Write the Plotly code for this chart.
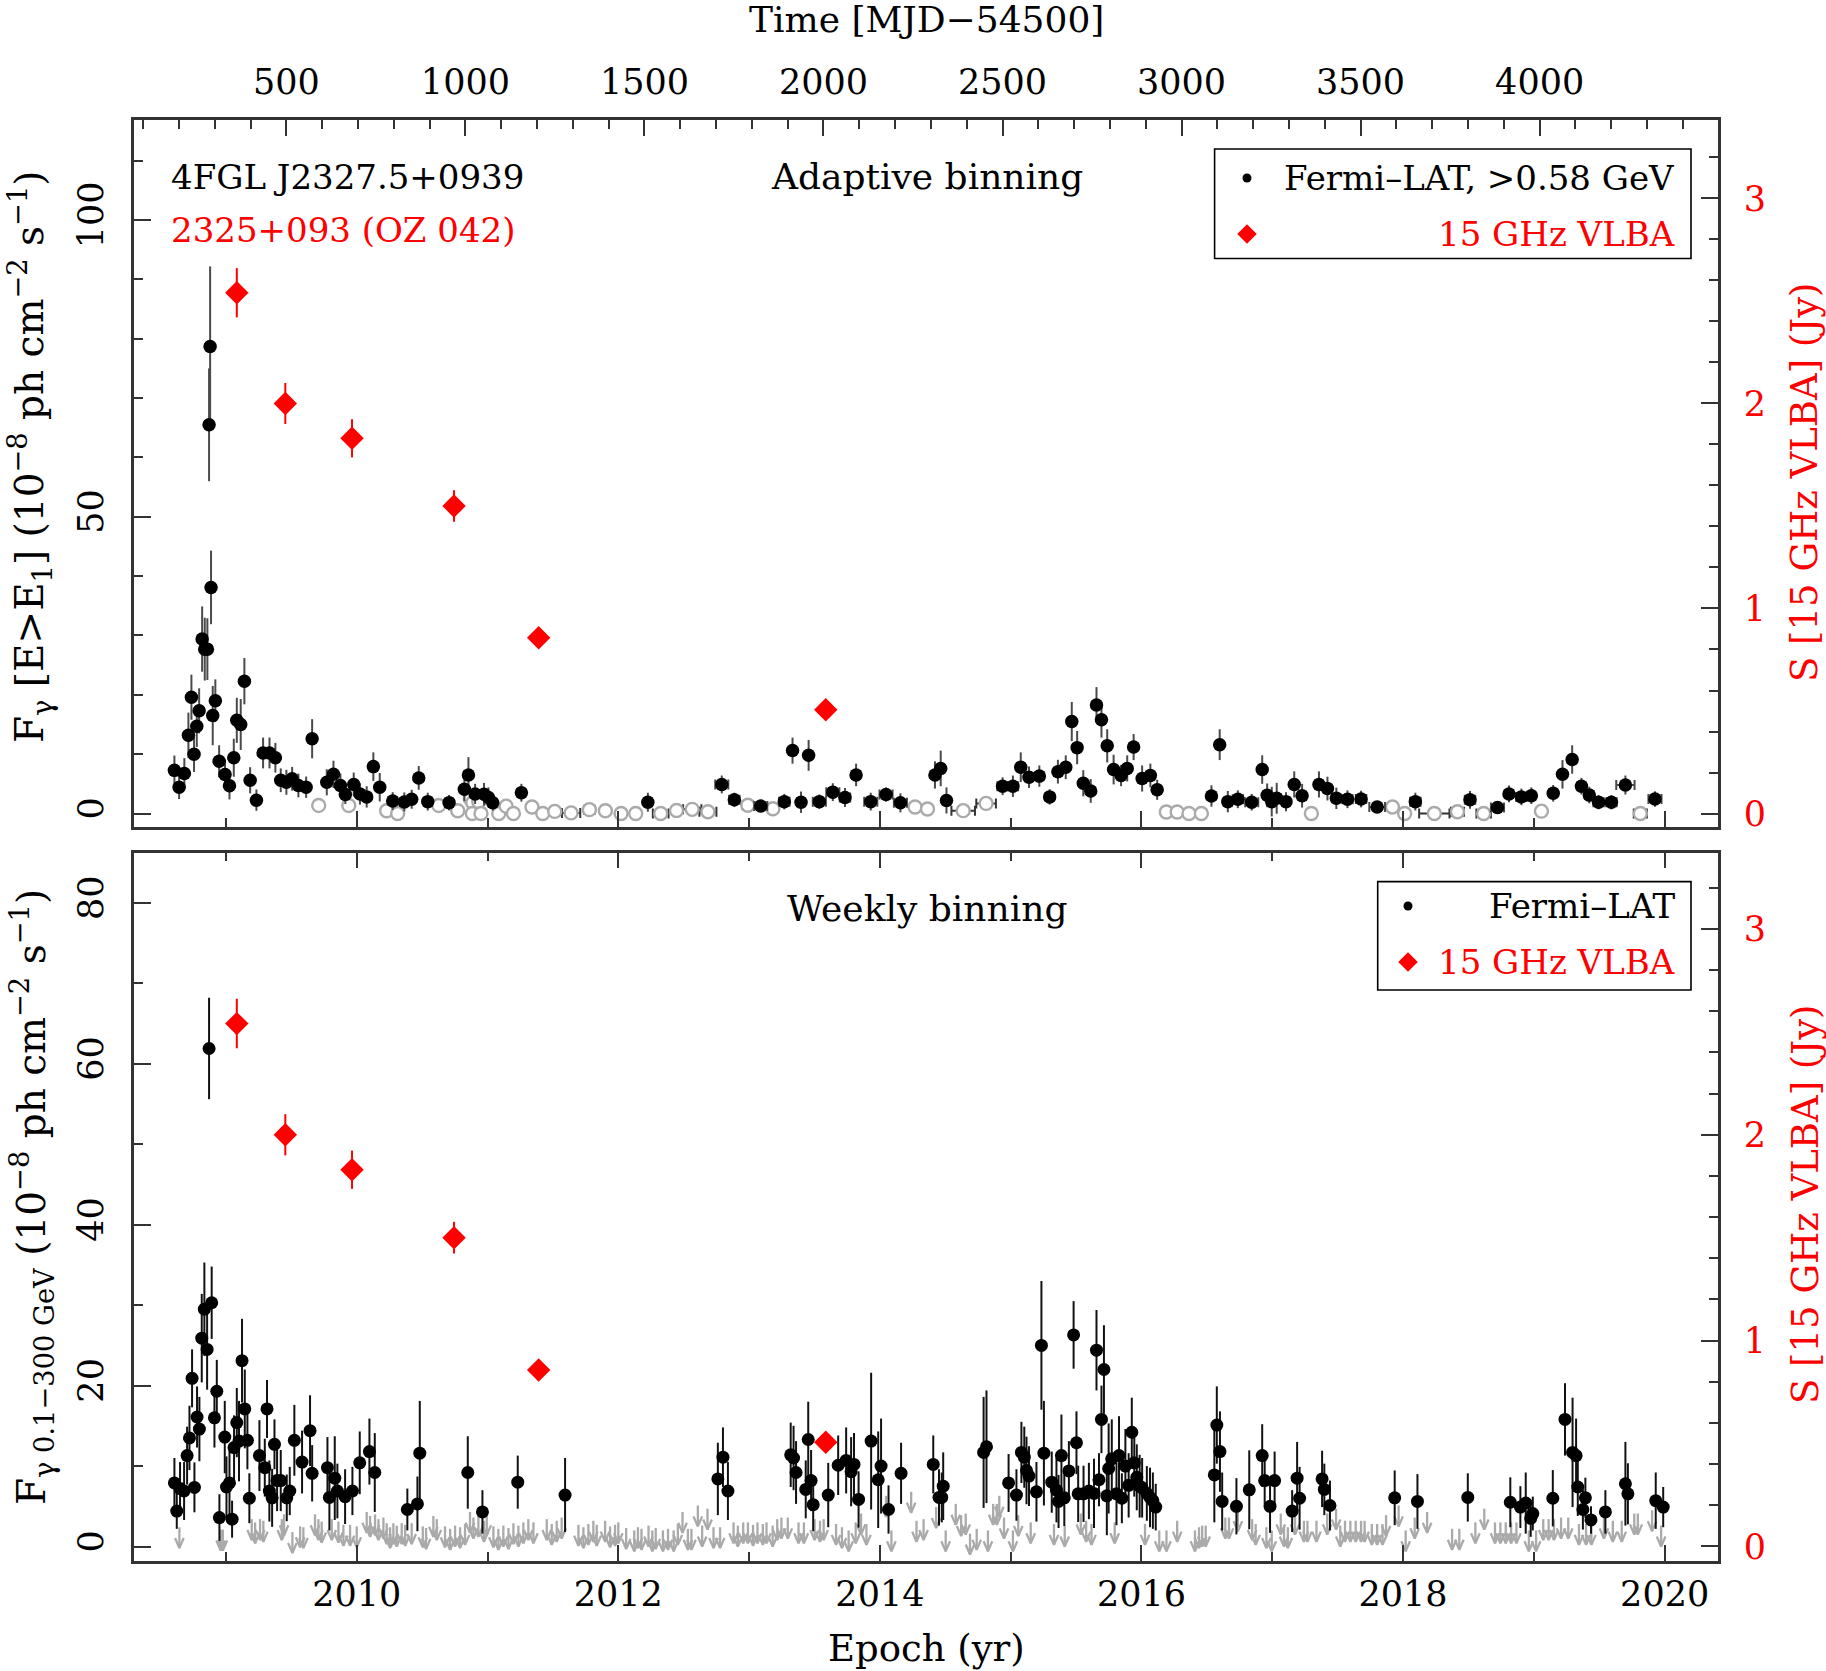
import plotly.graph_objects as go

# ---------------- DATA ----------------
# Upper panel: adaptive binning, Fermi-LAT >0.58 GeV (detections)
adapt_year = [2008.606, 2008.642, 2008.682, 2008.713, 2008.736, 2008.756, 2008.777, 2008.795, 2008.818, 2008.838,
              2008.858, 2008.871, 2008.879, 2008.886, 2008.899, 2008.919, 2008.948, 2008.993, 2009.027, 2009.060,
              2009.083, 2009.113, 2009.141, 2009.185, 2009.233, 2009.284, 2009.333, 2009.378, 2009.419, 2009.462,
              2009.506, 2009.554, 2009.613, 2009.659, 2009.771, 2009.822, 2009.875, 2009.913, 2009.977, 2010.025,
              2010.076, 2010.127, 2010.176, 2010.275, 2010.364, 2010.420, 2010.474, 2010.543, 2010.706, 2010.823,
              2010.854, 2010.905, 2010.973, 2011.007, 2011.040, 2011.259,
              2012.226, 2012.791, 2012.887, 2013.089, 2013.269, 2013.332, 2013.397, 2013.455, 2013.537, 2013.640,
              2013.733, 2013.818, 2013.930, 2014.047, 2014.157, 2014.421, 2014.465, 2014.509, 2014.938, 2015.017,
              2015.077, 2015.140, 2015.219, 2015.298, 2015.361, 2015.421, 2015.467, 2015.508, 2015.555, 2015.612,
              2015.656, 2015.694, 2015.738, 2015.787, 2015.844, 2015.891, 2015.940, 2016.005, 2016.068, 2016.120,
              2016.535, 2016.598, 2016.660, 2016.737, 2016.843, 2016.923, 2016.961, 2016.996, 2017.034, 2017.105,
              2017.168, 2017.228, 2017.357, 2017.422, 2017.490, 2017.575, 2017.679, 2017.802, 2018.094, 2018.512,
              2018.722, 2018.810, 2018.905, 2018.981, 2019.148, 2019.219, 2019.293, 2019.364, 2019.424, 2019.495,
              2019.593, 2019.700, 2019.926]
adapt_flux = [7.27, 4.43, 6.74, 13.2, 19.6, 10.0, 14.7, 17.3, 29.4, 27.7,
              27.7, 65.5, 78.7, 38.1, 16.5, 19.0, 8.8, 6.56, 4.67, 9.4,
              15.7, 15.0, 22.3, 5.6, 2.25, 10.2, 10.2, 9.4, 5.6, 5.26,
              5.85, 4.73, 4.43, 12.6, 5.26, 6.6, 4.73, 3.19, 4.9, 3.3,
              2.8, 7.9, 4.43, 2.1, 1.95, 2.4, 6.0, 2.0, 1.83, 4.1,
              6.5, 3.3, 3.25, 2.7, 1.8, 3.5,
              1.9, 4.9, 2.3, 1.26, 2.0, 10.6, 1.9, 9.8, 2.0, 3.6,
              2.7, 6.5, 2.0, 3.2, 1.8, 6.5, 7.6, 2.2, 4.6, 4.6,
              7.8, 6.1, 6.3, 2.8, 7.05, 7.8, 15.5, 11.1, 5.1, 3.8,
              18.3, 15.8, 11.4, 7.4, 6.4, 7.6, 11.2, 5.9, 6.4, 4.0,
              2.95, 11.6, 2.0, 2.4, 1.9, 7.4, 3.06, 2.0, 2.56, 2.0,
              4.9, 3.0, 4.9, 4.2, 2.56, 2.4, 2.44, 1.1, 2.0, 2.3,
              1.0, 3.3, 2.8, 3.0, 3.4, 6.6, 9.1, 4.6, 3.1, 1.9,
              1.9, 4.8, 2.44]
adapt_err = [2.5, 2.0, 2.6, 3.8, 3.8, 3.0, 3.5, 3.8, 5.5, 5.3,
             5.2, 9.5, 13.5, 6.2, 5.0, 3.6, 2.7, 2.5, 2.3, 3.2,
             3.8, 4.3, 3.9, 2.2, 1.8, 2.6, 2.6, 2.5, 2.0, 2.1,
             2.0, 2.0, 1.8, 3.3, 2.2, 2.3, 2.0, 1.6, 2.0, 1.8,
             1.8, 2.4, 2.4, 1.5, 1.6, 1.6, 2.0, 1.5, 1.3, 2.0,
             3.0, 1.7, 1.9, 1.7, 1.3, 1.5,
             1.6, 1.5, 1.2, 1.0, 1.3, 2.2, 1.8, 2.6, 1.2, 1.5,
             1.6, 1.9, 1.5, 1.2, 1.6, 2.3, 3.0, 2.2, 1.5, 1.8,
             2.5, 1.8, 1.8, 1.3, 2.0, 2.0, 3.3, 2.8, 2.2, 2.0,
             3.0, 3.0, 2.8, 2.5, 1.8, 2.2, 2.2, 2.2, 2.0, 1.7,
             1.8, 2.6, 1.8, 1.5, 1.4, 2.4, 2.0, 2.5, 2.6, 1.6,
             2.2, 2.0, 2.2, 2.0, 1.8, 1.5, 1.4, 0.8, 1.5, 1.5,
             0.9, 1.4, 1.4, 1.4, 1.4, 2.4, 2.4, 1.4, 1.4, 1.2,
             1.2, 1.6, 1.3]
adapt_xerr = [0.008, 0.008, 0.008, 0.008, 0.008, 0.008, 0.008, 0.008, 0.008, 0.008,
              0.008, 0.008, 0.008, 0.008, 0.008, 0.008, 0.008, 0.01, 0.01, 0.01,
              0.01, 0.01, 0.01, 0.01, 0.015, 0.015, 0.015, 0.015, 0.015, 0.015,
              0.015, 0.015, 0.015, 0.015, 0.02, 0.02, 0.02, 0.02, 0.02, 0.02,
              0.02, 0.02, 0.02, 0.03, 0.03, 0.02, 0.02, 0.03, 0.03, 0.02,
              0.02, 0.02, 0.02, 0.02, 0.02, 0.03,
              0.03, 0.05, 0.04, 0.05, 0.04, 0.02, 0.03, 0.02, 0.05, 0.05,
              0.04, 0.03, 0.05, 0.05, 0.05, 0.02, 0.02, 0.02, 0.04, 0.04,
              0.03, 0.03, 0.03, 0.03, 0.03, 0.02, 0.01, 0.01, 0.02, 0.02,
              0.01, 0.01, 0.02, 0.02, 0.02, 0.02, 0.02, 0.03, 0.03, 0.03,
              0.03, 0.01, 0.03, 0.04, 0.05, 0.02, 0.03, 0.03, 0.03, 0.03,
              0.02, 0.03, 0.03, 0.03, 0.03, 0.04, 0.04, 0.06, 0.04, 0.04,
              0.05, 0.03, 0.04, 0.03, 0.03, 0.02, 0.02, 0.03, 0.03, 0.04,
              0.04, 0.07, 0.05]

# Upper panel: adaptive bins with low significance (open grey circles)
adapt_low_year = [2009.709, 2009.939, 2010.229, 2010.313, 2010.627, 2010.772, 2010.869, 2010.887, 2010.933, 2010.884,
                  2010.950, 2011.086, 2011.142, 2011.198, 2011.340, 2011.422, 2011.514, 2011.639, 2011.779, 2011.901,
                  2012.021, 2012.133, 2012.324, 2012.445, 2012.565, 2012.685, 2012.990, 2013.182, 2014.269, 2014.364,
                  2014.637, 2014.812, 2016.190, 2016.273, 2016.363, 2016.458, 2017.299, 2017.919, 2018.012, 2018.239,
                  2018.416, 2018.616, 2019.058, 2019.814]
adapt_low_flux = [1.36, 1.36, 0.47, 0.0, 1.36, 0.47, 2.5, 1.8, 2.0, 0.0,
                  0.0, 0.0, 1.24, 0.0, 1.1, 0.0, 0.35, 0.1, 0.65, 0.47,
                  0.0, 0.0, 0.0, 0.5, 0.7, 0.3, 1.4, 0.8, 1.1, 0.76,
                  0.48, 1.7, 0.25, 0.25, 0.0, 0.0, 0.0, 1.1, 0.0, 0.0,
                  0.3, 0.0, 0.4, 0.0]
adapt_low_xerr = [0.02, 0.01, 0.01, 0.01, 0.01, 0.01, 0.01, 0.01, 0.01, 0.01,
                  0.01, 0.01, 0.02, 0.01, 0.03, 0.02, 0.03, 0.07, 0.04, 0.03,
                  0.03, 0.03, 0.06, 0.03, 0.07, 0.065, 0.04, 0.03, 0.02, 0.02,
                  0.09, 0.075, 0.02, 0.02, 0.02, 0.02, 0.02, 0.03, 0.03, 0.116,
                  0.05, 0.055, 0.03, 0.05]

# 15 GHz VLBA flux density (Jy)
vlba_year = [2009.083, 2009.454, 2009.964, 2010.744, 2011.391, 2013.586]
vlba_jy = [2.54, 2.00, 1.83, 1.50, 0.857, 0.506]
vlba_err = [0.12, 0.10, 0.093, 0.077, 0.03, 0.025]

# Lower panel: weekly binning, Fermi-LAT 0.1-300 GeV (detections)
week_year = [2008.606, 2008.624, 2008.649, 2008.680, 2008.703, 2008.721, 2008.741, 2008.759, 2008.779, 2008.797,
             2008.815, 2008.835, 2008.856, 2008.871, 2008.891, 2008.912, 2008.930, 2008.950, 2008.991, 2009.004,
             2009.027, 2009.047, 2009.062, 2009.083, 2009.100, 2009.123, 2009.144, 2009.164, 2009.179, 2009.256,
             2009.297, 2009.314, 2009.332, 2009.353, 2009.371, 2009.391, 2009.419, 2009.465, 2009.488, 2009.523,
             2009.582, 2009.643, 2009.659, 2009.776, 2009.791, 2009.832, 2009.852, 2009.911, 2009.967, 2010.023,
             2010.097, 2010.138, 2010.387, 2010.464, 2010.482, 2010.849, 2010.961, 2011.231, 2011.593,
             2012.761, 2012.800, 2012.838, 2013.318, 2013.340, 2013.359, 2013.433, 2013.452, 2013.474, 2013.490,
             2013.605, 2013.681, 2013.742, 2013.780, 2013.802, 2013.837, 2013.933, 2013.987, 2014.009, 2014.066,
             2014.162, 2014.408, 2014.452, 2014.473, 2014.484, 2014.793, 2014.815, 2014.984, 2015.044, 2015.082,
             2015.104, 2015.121, 2015.140, 2015.197, 2015.235, 2015.254, 2015.314, 2015.350, 2015.366, 2015.388,
             2015.410, 2015.445, 2015.481, 2015.503, 2015.516, 2015.557, 2015.598, 2015.637, 2015.656, 2015.675,
             2015.694, 2015.713, 2015.735, 2015.749, 2015.773, 2015.809, 2015.828, 2015.850, 2015.877, 2015.902,
             2015.926, 2015.945, 2015.964, 2015.986, 2016.005, 2016.041, 2016.065, 2016.087, 2016.109,
             2016.557, 2016.576, 2016.600, 2016.617, 2016.726, 2016.824, 2016.923, 2016.942, 2016.983, 2017.018,
             2017.152, 2017.190, 2017.209, 2017.381, 2017.398, 2017.441, 2017.936, 2018.110, 2018.495, 2018.820,
             2018.897, 2018.938, 2018.976, 2018.992, 2019.145, 2019.238, 2019.296, 2019.323, 2019.336, 2019.394,
             2019.375, 2019.437, 2019.547, 2019.700, 2019.719, 2019.932, 2019.989]
week_flux = [7.9, 4.4, 7.2, 6.9, 11.3, 13.5, 20.9, 7.35, 16.1, 14.6,
             25.9, 29.5, 24.5, 61.9, 30.3, 16.0, 19.3, 3.6, 13.6, 7.4,
             7.9, 3.4, 12.3, 15.4, 13.1, 23.1, 17.1, 13.2, 6.0, 11.3,
             9.8, 17.1, 6.9, 6.05, 12.7, 8.2, 8.2, 6.05, 6.9, 13.2,
             10.5, 14.4, 9.1, 9.8, 6.1, 8.5, 6.9, 6.2, 6.9, 10.4,
             11.8, 9.2, 4.6, 5.3, 11.6, 9.2, 4.3, 8.0, 6.4,
             8.4, 11.1, 6.9, 11.4, 11.0, 9.2, 7.1, 13.3, 8.2, 5.2,
             6.4, 10.1, 10.7, 9.3, 10.2, 5.85, 13.1, 8.3, 10.0, 4.6,
             9.1, 10.2, 6.1, 6.1, 7.5, 11.7, 12.4, 7.9, 6.4, 11.7,
             11.1, 9.45, 8.75, 6.8, 25.0, 11.6, 8.0, 7.0, 5.6, 11.3,
             6.05, 9.4, 26.3, 12.9, 6.55, 6.55, 6.9, 6.6, 24.4, 8.3,
             15.8, 22.0, 6.3, 9.7, 10.9, 6.55, 11.3, 6.0, 10.0, 7.6,
             14.2, 10.4, 8.6, 7.5, 7.3, 6.6, 6.1, 5.7, 4.9,
             8.9, 15.1, 11.8, 5.6, 5.0, 7.05, 11.3, 8.2, 5.0, 8.2,
             4.4, 8.5, 6.0, 8.4, 7.1, 5.1, 6.05, 5.6, 6.1, 5.5,
             4.9, 5.4, 3.5, 4.1, 6.0, 15.8, 11.7, 11.3, 7.4, 6.05,
             4.6, 3.3, 4.3, 7.8, 6.55, 5.7, 4.9]
week_err = [3.1, 2.2, 3.3, 3.6, 3.6, 4.0, 3.6, 3.1, 3.8, 4.0,
            5.5, 5.8, 5.0, 6.3, 4.5, 3.7, 3.9, 2.9, 4.5, 3.8,
            4.0, 2.3, 4.0, 4.3, 5.0, 5.2, 4.9, 3.6, 3.1, 4.4,
            3.6, 3.6, 3.8, 3.6, 3.1, 3.8, 3.8, 2.9, 3.0, 4.4,
            3.9, 4.4, 3.5, 3.8, 4.1, 5.2, 3.4, 3.4, 3.0, 3.9,
            4.1, 4.9, 2.6, 3.4, 6.5, 4.5, 2.7, 3.3, 4.6,
            4.5, 3.7, 3.6, 4.0, 4.0, 3.9, 3.6, 4.7, 3.8, 3.3,
            4.0, 3.7, 4.1, 4.3, 3.9, 3.5, 8.5, 6.0, 5.9, 3.0,
            3.8, 3.6, 3.5, 3.1, 4.2, 6.9, 7.0, 3.6, 3.2, 3.8,
            3.8, 4.2, 3.7, 3.7, 8.0, 6.5, 3.8, 4.0, 3.3, 5.1,
            3.5, 3.7, 4.2, 3.9, 3.5, 3.5, 3.5, 4.3, 5.0, 3.3,
            4.2, 5.5, 4.9, 5.6, 4.9, 3.9, 4.9, 3.1, 4.6, 4.0,
            4.3, 4.2, 4.1, 3.9, 3.7, 3.4, 3.7, 3.5, 2.9,
            5.9, 4.8, 5.0, 3.6, 3.5, 4.9, 3.9, 3.0, 3.3, 3.6,
            2.6, 4.5, 3.9, 3.5, 3.2, 3.1, 3.4, 3.4, 3.0, 3.1,
            2.6, 3.8, 2.3, 2.1, 3.5, 4.5, 6.8, 4.6, 3.6, 2.5,
            2.5, 1.7, 2.7, 5.2, 3.8, 3.5, 2.5]

# Lower panel: weekly upper limits (grey arrows)
ul_year = [2008.644, 2008.960, 2008.976, 2009.197, 2009.223, 2009.261, 2009.286, 2009.427, 2009.444, 2009.508,
           2009.567, 2009.592, 2009.681, 2009.707, 2009.732, 2009.809, 2009.860, 2009.898, 2009.949, 2010.000,
           2010.076, 2010.102, 2010.140, 2010.166, 2010.204, 2010.229, 2010.255, 2010.280, 2010.306, 2010.344,
           2010.370, 2010.420, 2010.505, 2010.530, 2010.586, 2010.612, 2010.675, 2010.714, 2010.752, 2010.790,
           2010.828, 2010.866, 2010.892, 2010.930, 2010.973, 2010.994, 2011.045, 2011.083, 2011.121, 2011.160,
           2011.198, 2011.236, 2011.274, 2011.312, 2011.351, 2011.453, 2011.491, 2011.529, 2011.567, 2011.695,
           2011.733, 2011.771, 2011.809, 2011.835, 2011.899, 2011.937, 2011.975, 2012.000,
           2012.060, 2012.122, 2012.150, 2012.177, 2012.231, 2012.260, 2012.286, 2012.341, 2012.380, 2012.423,
           2012.455, 2012.491, 2012.532, 2012.559, 2012.608, 2012.641, 2012.682, 2012.728, 2012.778, 2012.881,
           2012.914, 2012.955, 2012.991, 2013.030, 2013.064, 2013.105, 2013.133, 2013.180, 2013.215, 2013.247,
           2013.296, 2013.378, 2013.419, 2013.501, 2013.542, 2013.570, 2013.665, 2013.710, 2013.761, 2013.815,
           2013.856, 2013.897, 2014.047, 2014.088, 2014.239, 2014.280, 2014.334, 2014.430, 2014.503, 2014.580,
           2014.621, 2014.656, 2014.689, 2014.740, 2014.826, 2014.866, 2014.894, 2014.913, 2014.949, 2015.017,
           2015.058, 2015.153, 2015.331, 2015.413, 2015.536, 2015.577, 2015.618, 2015.795, 2016.027, 2016.136,
           2016.191, 2016.273,
           2016.409, 2016.440, 2016.464, 2016.491, 2016.641, 2016.669, 2016.737, 2016.846, 2016.873, 2016.955,
           2016.996, 2017.065, 2017.090, 2017.119, 2017.174, 2017.242, 2017.269, 2017.338, 2017.420, 2017.488,
           2017.520, 2017.556, 2017.597, 2017.638, 2017.679, 2017.706, 2017.761, 2017.802, 2017.843, 2017.870,
           2017.966, 2018.020, 2018.089, 2018.184, 2018.375, 2018.430, 2018.553, 2018.621, 2018.703, 2018.744,
           2018.785, 2018.826, 2018.867, 2018.962, 2019.017, 2019.072, 2019.113, 2019.154, 2019.208, 2019.263,
           2019.345, 2019.399, 2019.440, 2019.536, 2019.604, 2019.672, 2019.768, 2019.795, 2019.904, 2019.973]
ul_flux = [2.4, 2.1, 2.1, 3.4, 3.0, 3.4, 3.2, 3.4, 4.0, 1.8,
           2.5, 2.4, 4.0, 3.4, 3.1, 3.4, 3.1, 2.7, 2.7, 2.5,
           4.3, 3.8, 4.0, 3.4, 3.6, 2.9, 2.4, 2.9, 2.6, 2.9,
           2.7, 2.9, 2.5, 2.3, 3.8, 3.4, 2.5, 2.2, 2.6, 2.4,
           2.8, 4.3, 3.6, 3.8, 3.2, 4.0, 2.5, 2.2, 2.6, 2.3,
           2.9, 2.6, 3.0, 3.4, 3.0, 3.4, 2.8, 3.2, 3.6, 2.7,
           2.4, 2.8, 3.2, 2.7, 3.2, 2.5, 2.7, 3.0,
           2.3, 2.0, 2.4, 2.2, 2.6, 2.0, 2.3, 2.0, 2.2, 2.0,
           2.8, 4.3, 2.2, 2.2, 5.1, 2.6, 4.7, 2.4, 2.4, 3.0,
           2.6, 3.0, 3.0, 2.7, 3.0, 2.8, 3.0, 2.6, 3.4, 3.6,
           3.6, 3.0, 3.0, 3.4, 3.2, 3.4, 2.8, 2.4, 2.0, 3.0,
           4.1, 2.8, 6.3, 2.0, 6.8, 3.2, 3.4, 4.9, 2.0, 5.3,
           3.9, 4.1, 1.6, 2.2, 2.0, 5.3, 5.3, 6.3, 3.6, 2.0,
           3.9, 3.0, 2.8, 2.6, 4.1, 3.2, 2.8, 3.0, 2.8, 2.0,
           2.0, 3.2,
           2.0, 2.4, 2.6, 2.6, 3.6, 3.6, 4.5, 3.4, 2.8, 2.4,
           2.0, 4.1, 2.6, 2.4, 4.1, 3.2, 3.2, 3.2, 4.1, 4.7,
           2.6, 3.2, 3.2, 3.2, 3.2, 3.2, 2.8, 2.8, 2.8, 3.9,
           5.1, 2.0, 3.6, 4.3, 2.2, 2.2, 3.0, 4.7, 3.0, 3.0,
           3.0, 3.0, 3.0, 2.0, 2.0, 3.4, 3.4, 3.4, 3.6, 3.6,
           2.8, 2.8, 2.8, 3.6, 3.2, 3.2, 4.1, 4.1, 4.5, 2.6]

# Axis ranges / conversions
YEAR_RANGE = [2008.297, 2020.408]
MJD54500_YEAR = 2008.0929      # decimal year of MJD 54500
DAYS_PER_YEAR = 365.25
UP_RANGE = [-2.275, 116.87]
UP_JY_RANGE = [-0.0658, 3.3826]
LO_RANGE = [-1.80, 86.26]
LO_JY_RANGE = [-0.0705, 3.371]

# ---------------- STYLE / LAYOUT ----------------
FONT = "DejaVu Serif"
W, H = 1826, 1671
PL, PR, PT, PB = 134, 1718, 120, 1561      # plot area in px
UP_BOTTOM_PX, LO_TOP_PX = 827, 852.5
AXC = "#333333"
RED = "#ff0000"
GREY = "#aaaaaa"


def paper(X, Y):
    return (X - PL) / (PR - PL), (PB - Y) / (PB - PT)


up_dom = [(PB - UP_BOTTOM_PX) / (PB - PT), 1.0]
lo_dom = [0.0, (PB - LO_TOP_PX) / (PB - PT)]

fig = go.Figure()

# --- upper panel ---
fig.add_trace(go.Scatter(
    x=adapt_low_year, y=adapt_low_flux, mode="markers", xaxis="x", yaxis="y",
    marker=dict(symbol="circle", size=13, color="white", line=dict(width=2.4, color=GREY)),
    error_x=dict(type="data", array=adapt_low_xerr, color="#333333", thickness=2, width=5),
    showlegend=False, hoverinfo="skip"))
fig.add_trace(go.Scatter(
    x=adapt_year, y=adapt_flux, mode="markers", xaxis="x", yaxis="y",
    marker=dict(symbol="circle", size=13.5, color="black"),
    error_y=dict(type="data", array=adapt_err, color="#4a4a4a", thickness=2, width=0),
    error_x=dict(type="data", array=adapt_xerr, color="#4a4a4a", thickness=2, width=5),
    showlegend=False, hoverinfo="skip"))
fig.add_trace(go.Scatter(
    x=vlba_year, y=vlba_jy, mode="markers", xaxis="x", yaxis="y2",
    marker=dict(symbol="diamond", size=18, color=RED),
    error_y=dict(type="data", array=vlba_err, color=RED, thickness=2, width=0),
    showlegend=False, hoverinfo="skip"))
# dummy trace to register the MJD (top) axis
fig.add_trace(go.Scatter(x=[None], y=[None], xaxis="x3", yaxis="y", showlegend=False, hoverinfo="skip"))

# --- lower panel ---
ARROW_LEN, HEAD_H, HEAD_W = 2.6, 1.25, 0.033
ax, ay = [], []
for t, u in zip(ul_year, ul_flux):
    tip = u - ARROW_LEN
    ax += [t, t, None, t - HEAD_W, t, t + HEAD_W, None]
    ay += [u, tip, None, tip + HEAD_H, tip, tip + HEAD_H, None]
fig.add_trace(go.Scatter(
    x=ax, y=ay, mode="lines", xaxis="x2", yaxis="y3",
    line=dict(color=GREY, width=2.3), showlegend=False, hoverinfo="skip"))
fig.add_trace(go.Scatter(
    x=week_year, y=week_flux, mode="markers", xaxis="x2", yaxis="y3",
    marker=dict(symbol="circle", size=13, color="black"),
    error_y=dict(type="data", array=week_err, color="#111111", thickness=2, width=0),
    showlegend=False, hoverinfo="skip"))
fig.add_trace(go.Scatter(
    x=vlba_year, y=vlba_jy, mode="markers", xaxis="x2", yaxis="y4",
    marker=dict(symbol="diamond", size=18, color=RED),
    error_y=dict(type="data", array=vlba_err, color=RED, thickness=2, width=0),
    showlegend=False, hoverinfo="skip"))

# --- legend keys (pixel-coordinate helper axes) ---
legend_keys = [
    dict(x=1247, y=178, symbol="circle", size=9, color="black"),
    dict(x=1247, y=234, symbol="diamond", size=15, color=RED),
    dict(x=1408, y=906, symbol="circle", size=9, color="black"),
    dict(x=1408, y=962, symbol="diamond", size=15, color=RED),
]
for k in legend_keys:
    fig.add_trace(go.Scatter(x=[k["x"]], y=[k["y"]], mode="markers", xaxis="x4", yaxis="y5",
                             marker=dict(symbol=k["symbol"], size=k["size"], color=k["color"]),
                             showlegend=False, hoverinfo="skip", cliponaxis=False))

tickfont = dict(family=FONT, size=35, color="black")
common_x = dict(range=YEAR_RANGE, tick0=2010, dtick=2, ticks="inside", ticklen=16, tickwidth=2,
                tickcolor=AXC, showline=True, linecolor=AXC, linewidth=2.5, showgrid=False,
                zeroline=False, tickformat="d", tickfont=tickfont,
                minor=dict(tick0=2010, dtick=1, ticks="inside", ticklen=9, tickwidth=2, tickcolor=AXC))
common_y = dict(ticks="inside", ticklen=17, tickwidth=2, tickcolor=AXC, showline=True, linecolor=AXC,
                linewidth=2.5, showgrid=False, zeroline=False, tickfont=tickfont)

mjd_range = [(YEAR_RANGE[0] - MJD54500_YEAR) * DAYS_PER_YEAR, (YEAR_RANGE[1] - MJD54500_YEAR) * DAYS_PER_YEAR]

fig.update_layout(
    width=W, height=H, paper_bgcolor="white", plot_bgcolor="rgba(0,0,0,0)",
    margin=dict(l=PL, r=W - PR, t=PT, b=H - PB, pad=0),
    font=dict(family=FONT, size=34, color="black"),
    xaxis=dict(domain=[0, 1], anchor="y", showticklabels=False, **common_x),
    xaxis2=dict(domain=[0, 1], anchor="y3", showticklabels=True, mirror="ticks",
                ticklabelstandoff=0, **common_x),
    xaxis3=dict(overlaying="x", side="top", anchor="y", range=mjd_range, tick0=0, dtick=500,
                ticks="inside", ticklen=16, tickwidth=2, tickcolor=AXC, showline=True, linecolor=AXC,
                linewidth=2.5, showgrid=False, zeroline=False, tickfont=tickfont, ticklabelstandoff=9,
                minor=dict(tick0=0, dtick=100, ticks="inside", ticklen=9, tickwidth=2, tickcolor=AXC)),
    xaxis4=dict(domain=[0, 1], anchor="y5", range=[PL, PR], visible=False, fixedrange=True),
    yaxis=dict(domain=up_dom, anchor="x", range=UP_RANGE, tick0=0, dtick=50, tickangle=-90,
               ticklabelstandoff=14,
               minor=dict(tick0=0, dtick=10, ticks="inside", ticklen=9, tickwidth=2, tickcolor=AXC),
               **common_y),
    yaxis2=dict(overlaying="y", side="right", anchor="x", range=UP_JY_RANGE, tick0=0, dtick=1,
                ticklabelstandoff=16,
                minor=dict(tick0=0, dtick=0.2, ticks="inside", ticklen=9, tickwidth=2, tickcolor=AXC),
                **{**common_y, "tickfont": dict(family=FONT, size=35, color=RED)}),
    yaxis3=dict(domain=lo_dom, anchor="x2", range=LO_RANGE, tick0=0, dtick=20, tickangle=-90,
                ticklabelstandoff=14,
                minor=dict(tick0=0, dtick=10, ticks="inside", ticklen=9, tickwidth=2, tickcolor=AXC),
                **common_y),
    yaxis4=dict(overlaying="y3", side="right", anchor="x2", range=LO_JY_RANGE, tick0=0, dtick=1,
                ticklabelstandoff=16,
                minor=dict(tick0=0, dtick=0.2, ticks="inside", ticklen=9, tickwidth=2, tickcolor=AXC),
                **{**common_y, "tickfont": dict(family=FONT, size=35, color=RED)}),
    yaxis5=dict(domain=[0, 1], anchor="x4", range=[PB, PT], visible=False, fixedrange=True),
)

annotations = []


def ann(text, X, Y, size=34, color="black", xanchor="center", angle=0):
    x, y = paper(X, Y)
    annotations.append(dict(text=text, x=x, y=y, xref="paper", yref="paper", showarrow=False,
                            xanchor=xanchor, yanchor="middle", textangle=angle,
                            font=dict(family=FONT, size=size, color=color)))


ann("Time [MJD\u221254500]", 926, 20, size=36)
ann("Epoch (yr)", 926, 1648, size=37)
ann("4FGL J2327.5+0939", 169, 177, xanchor="left")
ann("2325+093 (OZ 042)", 169, 230, color=RED, xanchor="left")
ann("Adaptive binning", 927, 177, size=36)
ann("Weekly binning", 927, 908, size=36)
ann("Fermi\u2013LAT, &gt;0.58 GeV", 1677, 178, xanchor="right")
ann("15 GHz VLBA", 1677, 234, color=RED, xanchor="right")
ann("Fermi\u2013LAT", 1677, 906, xanchor="right")
ann("15 GHz VLBA", 1677, 962, color=RED, xanchor="right")
ann("F<sub>\u03b3</sub> [E&gt;E<sub>1</sub>] (10<sup>\u22128</sup> ph cm<sup>\u22122</sup> s<sup>\u22121</sup>)",
    30, 457, size=39, angle=-90)
ann("F<sub>\u03b3 0.1\u2212300 GeV</sub> (10<sup>\u22128</sup> ph cm<sup>\u22122</sup> s<sup>\u22121</sup>)",
    32, 1197, size=39, angle=-90)
ann("S [15 GHz VLBA] (Jy)", 1805, 483, size=37, color=RED, angle=-90)
ann("S [15 GHz VLBA] (Jy)", 1805, 1205, size=37, color=RED, angle=-90)

shapes = []
for (x0, y0, x1, y1) in [(1214.6, 149, 1691, 258.5), (1377.7, 881.6, 1691, 990)]:
    a0, b0 = paper(x0, y1)
    a1, b1 = paper(x1, y0)
    shapes.append(dict(type="rect", xref="paper", yref="paper", x0=a0, y0=b0, x1=a1, y1=b1,
                       line=dict(color="black", width=1.6), fillcolor="rgba(0,0,0,0)"))

fig.update_layout(annotations=annotations, shapes=shapes)

fig.write_html("out.html", config={"displayModeBar": False},
               post_script="document.body.style.margin='0px';")
